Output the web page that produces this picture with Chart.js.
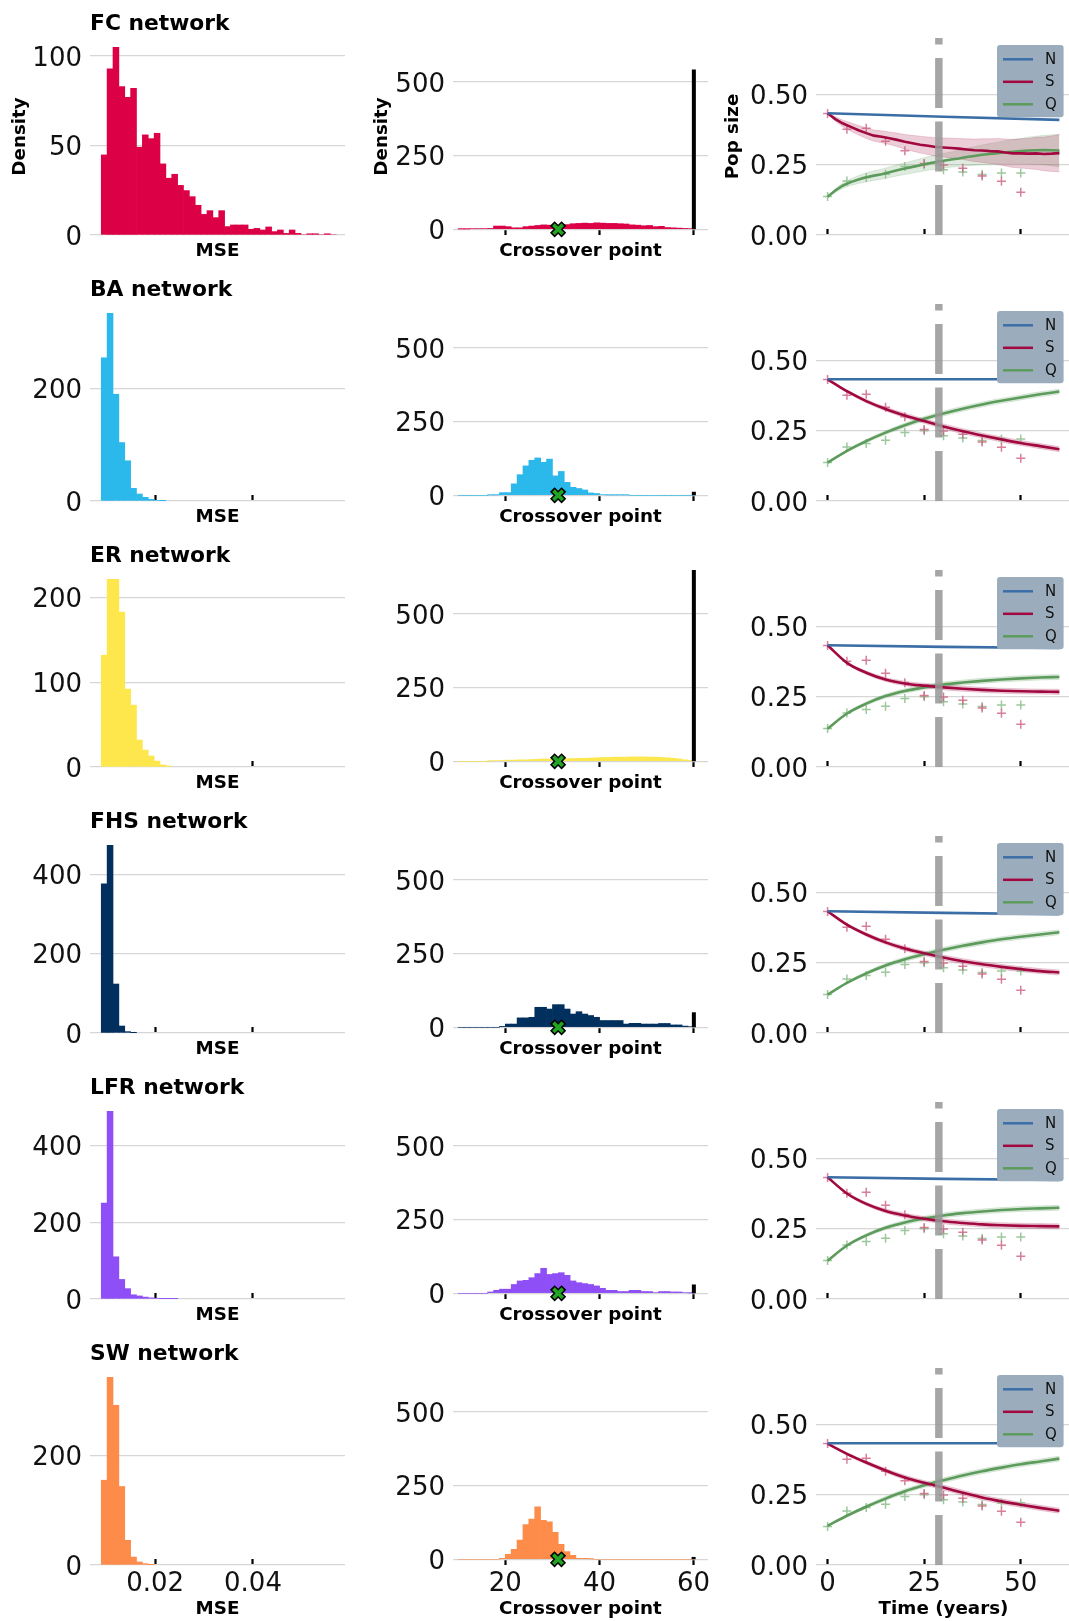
<!DOCTYPE html>
<html>
<head>
<meta charset="utf-8">
<title>Network model fits</title>
<script src="https://cdn.jsdelivr.net/npm/chart.js"></script>
<style>
  html, body { margin: 0; padding: 0; background: #fff; }
  #fig { position: relative; width: 1069px; height: 1621px; overflow: hidden; background: #fff; }
  #fig canvas { position: absolute; }
</style>
</head>
<body>
<div id="fig"></div>
<script>
// ---- rows (one network per row) ----
const networks = ["FC network", "BA network", "ER network", "FHS network", "LFR network", "SW network"];
const netColors = ["#dc0046", "#2bb8eb", "#fde74c", "#02305e", "#8e4ff6", "#fd8c4b"];

// ---- column 1: MSE histograms ----
const mseBinLeft = 0.009;
const mseBinWidth = 0.0012;
const mseFC = [44.7, 92.7, 104.7, 82.9, 76.9, 81.9, 49, 55.9, 53.8, 56.8, 39.7, 31.7, 33.9, 27.7, 24.8, 21.4, 16.6, 11.5, 13.6, 9.7,
               13.6, 4.7, 5.6, 5.6, 5.6, 3.2, 3.7, 2.8, 4.5, 1.9, 2.8, 0.9, 2.8, 0.9, 0, 0.7, 0.7, 0, 0.7, 0];
const mseBA = [255, 334, 190, 104, 71.6, 22.5, 12.4, 6.5, 3, 1.2, 0.6];
const mseER = [132, 221.6, 221.6, 183, 92, 73, 31.8, 20, 13, 7, 2.4, 1.2];
const mseFHS = [376, 473, 123.5, 17.6, 3.4, 0.5];
const mseLFR = [250, 489, 110, 51, 27, 11, 8, 5, 3, 2, 1, 1, 1];
const mseSW = [154.5, 342, 291, 143, 45, 14.5, 5.5, 2.4, 0.6];
const mseYMax = [110, 350.7, 232.7, 496.7, 513.5, 359];
const mseYTicks = [[0, 50, 100], [0, 200], [0, 100, 200], [0, 200, 400], [0, 200, 400], [0, 200]];
const mseXTicks = [0.02, 0.04];

// ---- column 2: crossover point histograms ----
const crossBinLeft = 10;
const crossBinWidth = 1.25;
const crossFC = [1, 1, 2, 2, 2, 3, 11, 11, 9, 5, 5, 9, 11, 13, 15, 14, 13, 12, 16, 19,
                 20, 21, 20, 22, 21, 20, 20, 19, 18, 15, 14, 12, 13, 9, 10, 6, 5, 4, 3, 2];
const crossBA = [0, 0, 0, 0, 0, 1, 1, 9, 9, 39, 70, 100, 119, 127, 112, 123, 66, 81, 44, 27,
                 23, 18, 8, 6, 2, 1, 1, 1, 1, 0, 0, 0, 0, 0, 0, 0, 0, 0, 0, 0];
const crossER = [0, 0, 0, 0, 0, 1, 2, 3, 4, 4, 5, 5, 6, 7, 8, 7, 8, 8, 9, 9,
                 10, 10, 11, 12, 13, 13, 14, 14, 14, 15, 15, 15, 14, 14, 13, 12, 10, 8, 5, 3];
const crossFHS = [0, 0, 0, 0, 0, 0, 0, 3, 11, 11, 32, 32, 34, 68, 68, 62, 77, 77, 62, 45,
                  53, 45, 40, 34, 23, 23, 23, 23, 11, 13.5, 13.5, 11, 11, 11, 13, 13, 8, 8, 4, 2];
const crossLFR = [0, 0, 0, 0, 0, 4.5, 10, 14, 14, 30, 42, 44, 53, 67, 85, 64, 67, 70, 61, 42,
                  36, 33, 30, 25, 17, 10, 10, 6, 6, 10, 10, 6, 6, 2, 6, 6, 4.5, 4.5, 2, 1];
const crossSW = [0, 0, 0, 0, 0, 0, 0, 3, 17, 34, 65, 118, 137, 178, 132, 127, 92, 51, 26, 13.5,
                 3.4, 3.4, 1, 0, 0, 0, 0, 0, 0, 0, 0, 0, 0, 0, 0, 0, 0, 0, 0, 0];
const noCrossover = [543, 12, 650, 51, 30, 8];   // black bar at 60
const noCrossoverX = 60;
const trueCrossover = 31.2;                      // green X
const crossXTicks = [20, 40, 60];
const crossYTicks = [0, 250, 500];

// ---- column 3: population sizes ----
const obsYears = [0, 5, 10, 15, 20, 25, 30, 35, 40, 45, 50];
const obsS = [0.432, 0.376, 0.379, 0.333, 0.299, 0.254, 0.249, 0.237, 0.21, 0.191, 0.152];
const obsQ = [0.137, 0.192, 0.204, 0.216, 0.243, 0.25, 0.232, 0.224, 0.215, 0.22, 0.22];

const fcYears = [0, 2, 4, 6, 8, 10, 12, 14, 16, 18, 20, 22, 24, 26, 28, 30, 32, 34, 36, 38, 40, 42, 44, 46, 48, 50, 52, 54, 56, 58, 60];
const fcS = [0.4325, 0.412, 0.396, 0.384, 0.372, 0.362, 0.353, 0.349, 0.344, 0.338, 0.331, 0.326, 0.321, 0.317, 0.313, 0.311,
             0.309, 0.307, 0.304, 0.301, 0.300, 0.298, 0.297, 0.293, 0.290, 0.290, 0.289, 0.290, 0.288, 0.289, 0.291];
const fcQ = [0.136, 0.158, 0.176, 0.188, 0.197, 0.205, 0.211, 0.216, 0.223, 0.230, 0.236, 0.242, 0.248, 0.254, 0.259, 0.264,
             0.268, 0.272, 0.277, 0.281, 0.285, 0.288, 0.291, 0.294, 0.296, 0.298, 0.300, 0.301, 0.302, 0.301, 0.300];
const fcSBand = [0, 0.008, 0.012, 0.015, 0.017, 0.019, 0.02, 0.021, 0.022, 0.024, 0.026, 0.028, 0.03, 0.031, 0.033, 0.034,
                 0.035, 0.036, 0.038, 0.04, 0.042, 0.044, 0.046, 0.048, 0.05, 0.052, 0.054, 0.057, 0.06, 0.063, 0.066];
const fcQBand = [0, 0.007, 0.01, 0.012, 0.014, 0.016, 0.017, 0.018, 0.019, 0.02, 0.021, 0.022, 0.023, 0.024, 0.025, 0.026,
                 0.027, 0.029, 0.031, 0.033, 0.035, 0.037, 0.039, 0.041, 0.043, 0.045, 0.048, 0.05, 0.052, 0.055, 0.058];

const fitYears = [0, 5, 10, 15, 20, 25, 30, 35, 40, 45, 50, 55, 60];
const baS = [0.4325, 0.39, 0.355, 0.327, 0.304, 0.284, 0.265, 0.248, 0.233, 0.219, 0.206, 0.195, 0.184];
const baQ = [0.136, 0.178, 0.213, 0.243, 0.269, 0.292, 0.311, 0.328, 0.343, 0.356, 0.368, 0.379, 0.389];
const erS = [0.4325, 0.37, 0.335, 0.311, 0.297, 0.289, 0.283, 0.278, 0.274, 0.271, 0.269, 0.268, 0.267];
const erQ = [0.136, 0.19, 0.225, 0.252, 0.27, 0.283, 0.293, 0.3, 0.306, 0.311, 0.315, 0.318, 0.32];
const fhsS = [0.4325, 0.385, 0.35, 0.322, 0.3, 0.283, 0.268, 0.255, 0.244, 0.235, 0.227, 0.22, 0.215];
const fhsQ = [0.136, 0.178, 0.212, 0.24, 0.262, 0.28, 0.296, 0.31, 0.322, 0.333, 0.342, 0.35, 0.358];
const lfrS = [0.4325, 0.375, 0.338, 0.313, 0.297, 0.285, 0.276, 0.27, 0.265, 0.262, 0.26, 0.259, 0.258];
const lfrQ = [0.136, 0.19, 0.226, 0.253, 0.272, 0.286, 0.297, 0.305, 0.311, 0.316, 0.32, 0.322, 0.324];
const swS = [0.431, 0.395, 0.364, 0.336, 0.311, 0.292, 0.275, 0.257, 0.24, 0.226, 0.214, 0.203, 0.193];
const swQ = [0.139, 0.175, 0.207, 0.236, 0.262, 0.283, 0.301, 0.318, 0.333, 0.346, 0.358, 0.368, 0.378];
const bandSmooth = [0, 0.004, 0.006, 0.007, 0.008, 0.008, 0.009, 0.009, 0.009, 0.009, 0.009, 0.009, 0.009];

const nYears = [0, 30, 60];
const nFC = [0.4325, 0.42, 0.409];
const nBA = [0.4325, 0.4325, 0.4325];
const nER = [0.4325, 0.427, 0.423];
const nFHS = [0.4325, 0.427, 0.422];
const nLFR = [0.4325, 0.427, 0.423];
const nSW = [0.4325, 0.4325, 0.4325];

const crossoverLine = 28.8;
const popXTicks = [0, 25, 50];
const popYTicks = [0, 0.25, 0.5];
const seriesNames = ["N", "S", "Q"];

// tables built from the arrays above
const mseData = [mseFC, mseBA, mseER, mseFHS, mseLFR, mseSW];
const crossData = [crossFC, crossBA, crossER, crossFHS, crossLFR, crossSW];
const popS = [fcS, baS, erS, fhsS, lfrS, swS];
const popQ = [fcQ, baQ, erQ, fhsQ, lfrQ, swQ];
const popN = [nFC, nBA, nER, nFHS, nLFR, nSW];
const popSBand = [fcSBand, bandSmooth, bandSmooth, bandSmooth, bandSmooth, bandSmooth];
const popQBand = [fcQBand, bandSmooth, bandSmooth, bandSmooth, bandSmooth, bandSmooth];

// ---- styles ----
const seriesColors = ["#3b6ea6", "#a1083f", "#5c9b5c"];
const bandColors = ["rgba(161,8,63,0.2)", "rgba(92,155,92,0.2)"];
const obsColors = ["rgba(205,95,128,0.8)", "rgba(140,190,140,0.85)"];
const gridColor = "#d6d6d6";

Chart.defaults.font.family = "'DejaVu Sans', sans-serif";
Chart.defaults.animation = false;
Chart.defaults.events = [];
Chart.defaults.plugins.legend.display = false;
Chart.defaults.plugins.tooltip.enabled = false;

const fig = document.getElementById("fig");
function addCanvas(left, top, w, h) {
    const c = document.createElement("canvas");
    c.width = w;
    c.height = h;
    c.style.left = left + "px";
    c.style.top = top + "px";
    c.style.width = w + "px";
    c.style.height = h + "px";
    fig.appendChild(c);
    return c;
}

const pts = (xs, ys) => xs.map((x, i) => ({x: x, y: ys[i]}));
const bins = (counts, left, width) => counts.map((v, i) => ({x: left + width * (i + 0.5), y: v}));

function xAxis(min, max, ticks, fmt, title, last) {
    return {
        type: "linear", min: min, max: max, offset: false,
        afterBuildTicks: s => { s.ticks = ticks.map(v => ({value: v})); },
        afterFit: s => { s.height = last ? 56 : 31; },
        border: {display: false},
        grid: {offset: false, drawOnChartArea: false, drawTicks: true, tickLength: -6, tickWidth: 2.2, tickColor: "#000"},
        ticks: {display: last, autoSkip: false, maxRotation: 0, font: {size: 26}, color: "#111", padding: 9.2, callback: fmt},
        title: {display: !!title, text: title || "", color: "#000", font: {size: 18.3, weight: "bold"},
                padding: {top: 0, bottom: last ? 0.6 : 4.2}}
    };
}

function yAxis(min, max, ticks, fmt, width, title, titlePad) {
    return {
        type: "linear", min: min, max: max,
        afterBuildTicks: s => { s.ticks = ticks.map(v => ({value: v})); },
        afterFit: s => { s.width = width; },
        border: {display: false},
        grid: {color: gridColor, lineWidth: 1.3, drawTicks: false},
        ticks: {font: {size: 26}, color: "#111", padding: 8, labelOffset: 3, callback: fmt},
        title: {display: !!title, text: title || "", color: "#000", font: {size: 18.3, weight: "bold"},
                padding: {top: titlePad, bottom: 0}}
    };
}

// legend box drawn inside the plot area of the right-hand panels
const legendBox = {
    id: "legendBox",
    afterDatasetsDraw(chart) {
        const {ctx, chartArea} = chart;
        const w = 66.6, h = 72.3;
        const x = chartArea.right - 7.4 - w, y = chartArea.top + 7;
        ctx.save();
        ctx.fillStyle = "#9badbc";
        ctx.beginPath();
        ctx.roundRect(x, y, w, h, 3);
        ctx.fill();
        ctx.font = "15px 'DejaVu Sans', sans-serif";
        ctx.textBaseline = "middle";
        seriesNames.forEach((name, i) => {
            const ly = y + 14.3 + 22.5 * i;
            ctx.strokeStyle = seriesColors[i];
            ctx.lineWidth = 2.5;
            ctx.beginPath();
            ctx.moveTo(x + 6, ly);
            ctx.lineTo(x + 36, ly);
            ctx.stroke();
            ctx.fillStyle = "#111";
            ctx.fillText(name, x + 48, ly + 0.5);
        });
        ctx.restore();
    }
};

function mseChart(canvas, r, last) {
    return new Chart(canvas, {
        type: "bar",
        data: {
            datasets: [{
                data: bins(mseData[r], mseBinLeft, mseBinWidth),
                backgroundColor: netColors[r], borderWidth: 0,
                barPercentage: 1, categoryPercentage: 1
            }]
        },
        options: {
            responsive: false,
            layout: {autoPadding: false, padding: {top: 0, right: 15, bottom: 0, left: 0}},
            plugins: {
                title: {display: true, text: networks[r], align: "start", fullSize: false, color: "#000",
                        font: {size: 21.8, weight: "bold"}, padding: {top: 10.9, bottom: 0.9}}
            },
            scales: {
                x: xAxis(0.0067, 0.0588, mseXTicks, v => v.toFixed(2), "MSE", last),
                y: yAxis(0, mseYMax[r], mseYTicks[r], v => v, 90, r === 0 ? "Density" : "", 9.0)
            }
        }
    });
}

function crossChart(canvas, r, last) {
    return new Chart(canvas, {
        type: "bar",
        data: {
            datasets: [
                {type: "line", data: [{x: trueCrossover, y: 0}], showLine: false, pointStyle: "crossRot",
                 pointRadius: 6.6, pointBorderColor: "#22a522", pointBorderWidth: 3.6, order: 0, clip: false},
                {type: "line", data: [{x: trueCrossover, y: 0}], showLine: false, pointStyle: "crossRot",
                 pointRadius: 8.2, pointBorderColor: "#000", pointBorderWidth: 6.6, order: 1, clip: false},
                {type: "line", data: [{x: noCrossoverX, y: 0}, {x: noCrossoverX, y: noCrossover[r]}],
                 borderColor: "#000", borderWidth: 4, pointRadius: 0, order: 2, clip: false},
                {type: "bar", data: bins(crossData[r], crossBinLeft, crossBinWidth),
                 backgroundColor: netColors[r], borderWidth: 0, barPercentage: 1, categoryPercentage: 1, order: 3}
            ]
        },
        options: {
            responsive: false,
            layout: {autoPadding: false, padding: {top: 38, right: 12, bottom: 0, left: 0}},
            scales: {
                x: xAxis(8.9, 63, crossXTicks, v => v, "Crossover point", last),
                y: yAxis(-19.4, 650, crossYTicks, v => v, 93, r === 0 ? "Density" : "", 11.5)
            }
        }
    });
}

function popChart(canvas, r, last) {
    const t = r === 0 ? fcYears : fitYears;
    const s = popS[r], q = popQ[r], sb = popSBand[r], qb = popQBand[r];
    const smooth = r === 0 ? {tension: 0} : {cubicInterpolationMode: "monotone"};
    const band = (xs, ys, fill, color, order) => Object.assign({
        data: pts(xs, ys), fill: fill, backgroundColor: color, borderColor: color, borderWidth: 0.8,
        pointRadius: 0, order: order
    }, smooth);
    return new Chart(canvas, {
        type: "line",
        data: {
            datasets: [
                // dashes start from the bottom of the axes, as in the original
                {data: [{x: crossoverLine, y: 0}, {x: crossoverLine, y: 0.7}], borderColor: "rgba(150,150,150,0.85)",
                 borderWidth: 7.5, borderDash: [50, 13.5], borderCapStyle: "butt", pointRadius: 0, order: 0, clip: 0},
                {data: pts(nYears, popN[r]), borderColor: seriesColors[0], borderWidth: 2.6, pointRadius: 0, order: 1},
                Object.assign({data: pts(t, s), borderColor: seriesColors[1], borderWidth: 2.6, pointRadius: 0, order: 2}, smooth),
                Object.assign({data: pts(t, q), borderColor: seriesColors[2], borderWidth: 2.6, pointRadius: 0, order: 3}, smooth),
                {data: pts(obsYears, obsS), showLine: false, pointStyle: "cross", pointRadius: 4.5,
                 pointBorderColor: obsColors[0], pointBorderWidth: 1.5, order: 4},
                {data: pts(obsYears, obsQ), showLine: false, pointStyle: "cross", pointRadius: 4.5,
                 pointBorderColor: obsColors[1], pointBorderWidth: 1.5, order: 5},
                band(t, s.map((v, i) => v + sb[i]), "+1", bandColors[0], 6),
                band(t, s.map((v, i) => v - sb[i]), false, bandColors[0], 7),
                band(t, q.map((v, i) => v + qb[i]), "+1", bandColors[1], 8),
                band(t, q.map((v, i) => v - qb[i]), false, bandColors[1], 9)
            ]
        },
        options: {
            responsive: false,
            layout: {autoPadding: false, padding: {top: 38, right: 0, bottom: 0, left: 0}},
            scales: {
                x: xAxis(-3, 63, popXTicks, v => v, last ? "Time (years)" : "", last),
                y: yAxis(0, 0.7, popYTicks, v => v.toFixed(2), 96, r === 0 ? "Pop size" : "", 2.0)
            }
        },
        plugins: [legendBox]
    });
}

for (let r = 0; r < networks.length; r++) {
    const last = r === networks.length - 1;
    const top = 266 * r;
    const h = last ? 291 : 266;
    mseChart(addCanvas(0, top, 360, h), r, last);
    crossChart(addCanvas(360, top, 360, h), r, last);
    popChart(addCanvas(720, top, 351, h), r, last);
}
</script>
</body>
</html>
